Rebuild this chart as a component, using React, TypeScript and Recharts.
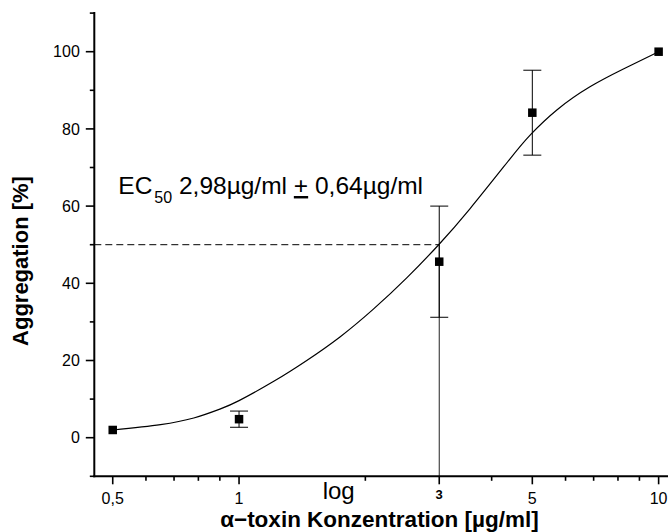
import React from "react";
import {
  ComposedChart,
  Line,
  Scatter,
  ErrorBar,
  XAxis,
  YAxis,
  ReferenceLine,
} from "recharts";

// ---- data ----
const concentrations = [0.5, 1, 3, 5, 10];
const aggregation = [2.0, 4.8, 45.6, 84.2, 100];
const aggregationErr = [0, 2.1, 14.4, 11.0, 0];

const fitX = [0.5, 0.65, 0.78, 0.9, 1.0, 1.21, 1.45, 1.74, 2.09, 2.51, 2.98, 3.55, 4.42, 4.94, 5.72, 6.86, 8.24, 10];
const fitY = [2.0, 3.4, 5.1, 7.4, 9.6, 14.6, 20.0, 26.1, 33.3, 41.4, 49.8, 59.3, 72.2, 78.4, 84.9, 90.9, 95.5, 100];

const xTicksMajor = [0.5, 1, 3, 5, 10];
const xTickLabels = ["0,5", "1", "3", "5", "10"];
const xTicksMinor = [0.6, 0.7, 0.8, 0.9, 2, 4, 6, 7, 8, 9];

const yTicksMajor = [0, 20, 40, 60, 80, 100];
const yTickLabels = ["0", "20", "40", "60", "80", "100"];
const yTicksMinor = [-10, 10, 30, 50, 70, 90, 110];

const xDomain = [0.4519, 10.47];
const yDomain = [-10, 110];
const ec50Mark = 3;
const halfLevel = 50;

const pointData = concentrations.map((c, i) => ({ x: c, y: aggregation[i], err: aggregationErr[i] }));
const fitData = fitX.map((c, i) => ({ x: c, fit: fitY[i] }));

const FONT = "'Liberation Sans', Arial, sans-serif";

const XTick = (props: any) => {
  const { x, y, payload } = props;
  const v = payload.value;
  const idx = xTicksMajor.indexOf(v);
  const major = idx >= 0;
  return (
    <g>
      <line x1={x} x2={x} y1={y} y2={y + (major ? 8 : 4.5)} stroke="#000" strokeWidth={1.6} />
      {major &&
        (v === 3 ? (
          <text x={x} y={y + 22.6} textAnchor="middle" fontSize={13} fontWeight="bold" fontFamily={FONT} fill="#000">
            {xTickLabels[idx]}
          </text>
        ) : (
          <text x={x} y={y + 27.8} textAnchor="middle" fontSize={16} fontFamily={FONT} fill="#000">
            {xTickLabels[idx]}
          </text>
        ))}
    </g>
  );
};

const YTick = (props: any) => {
  const { x, y, payload } = props;
  const v = payload.value;
  const idx = yTicksMajor.indexOf(v);
  const major = idx >= 0;
  return (
    <g>
      <line x1={x} x2={x - (major ? 8.5 : 4.5)} y1={y} y2={y} stroke="#000" strokeWidth={1.6} />
      {major && (
        <text x={x - 14.5} y={y + 5.7} textAnchor="end" fontSize={16} fontFamily={FONT} fill="#000">
          {yTickLabels[idx]}
        </text>
      )}
    </g>
  );
};

const SquareDot = (props: any) => {
  const { cx, cy } = props;
  if (cx == null || cy == null) return null;
  const s = 8.5;
  return <rect x={cx - s / 2} y={cy - s / 2} width={s} height={s} fill="#000" />;
};

export default function App() {
  return (
    <div
      style={{
        position: "fixed",
        left: 0,
        top: 0,
        width: 668,
        height: 532,
        overflow: "hidden",
        background: "#fff",
        fontFamily: FONT,
      }}
    >
      <ComposedChart
        width={668}
        height={532}
        margin={{ top: 13.1, right: 1, bottom: 0, left: 0 }}
      >
        <XAxis
          dataKey="x"
          type="number"
          scale="log"
          domain={xDomain}
          allowDataOverflow
          ticks={[...xTicksMajor, ...xTicksMinor].sort((a, b) => a - b)}
          interval={0}
          tick={<XTick />}
          tickLine={false}
          tickSize={0}
          tickMargin={0}
          axisLine={{ stroke: "#000", strokeWidth: 2, strokeLinecap: "square" }}
          height={55.7}
        />
        <YAxis
          type="number"
          domain={yDomain}
          allowDataOverflow
          ticks={[...yTicksMajor, ...yTicksMinor].sort((a, b) => a - b)}
          interval={0}
          tick={<YTick />}
          tickLine={false}
          tickSize={0}
          tickMargin={0}
          axisLine={{ stroke: "#000", strokeWidth: 2, strokeLinecap: "square" }}
          width={94.3}
        />
        <ReferenceLine
          segment={[
            { x: xDomain[0], y: halfLevel },
            { x: ec50Mark, y: halfLevel },
          ]}
          stroke="#000"
          strokeWidth={1}
          strokeDasharray="7 4"
        />
        <ReferenceLine
          segment={[
            { x: ec50Mark, y: yDomain[0] },
            { x: ec50Mark, y: halfLevel },
          ]}
          stroke="#222"
          strokeWidth={1}
        />
        <Line
          data={fitData}
          dataKey="fit"
          type="natural"
          stroke="#000"
          strokeWidth={1.2}
          dot={false}
          activeDot={false}
          isAnimationActive={false}
        />
        <Scatter
          data={pointData}
          dataKey="y"
          fill="#000"
          shape={<SquareDot />}
          isAnimationActive={false}
        >
          <ErrorBar dataKey="err" direction="y" width={9} stroke="#000" strokeWidth={1} />
        </Scatter>
      </ComposedChart>
      <svg
        width={668}
        height={532}
        style={{ position: "absolute", left: 0, top: 0, pointerEvents: "none" }}
      >
        <text x={118.3} y={194} fontSize={24.5} fontFamily={FONT} fill="#000">
          <tspan>EC</tspan>
          <tspan dx={2} dy={8.7} fontSize={16}>50</tspan>
          <tspan dy={-8.7}> 2,98µg/ml </tspan>
          <tspan style={{ textDecoration: "underline" }}>+</tspan>
          <tspan> 0,64µg/ml</tspan>
        </text>
        <text x={322.7} y={499} fontSize={24} fontFamily={FONT} fill="#000">
          log
        </text>
        <text x={379.5} y={526.5} fontSize={22.5} fontWeight="bold" textAnchor="middle" fontFamily={FONT} fill="#000">
          α−toxin Konzentration [µg/ml]
        </text>
        <text
          x={28}
          y={261}
          fontSize={22}
          fontWeight="bold"
          textAnchor="middle"
          fontFamily={FONT}
          fill="#000"
          transform="rotate(-90 28 261)"
        >
          Aggregation [%]
        </text>
      </svg>
    </div>
  );
}
